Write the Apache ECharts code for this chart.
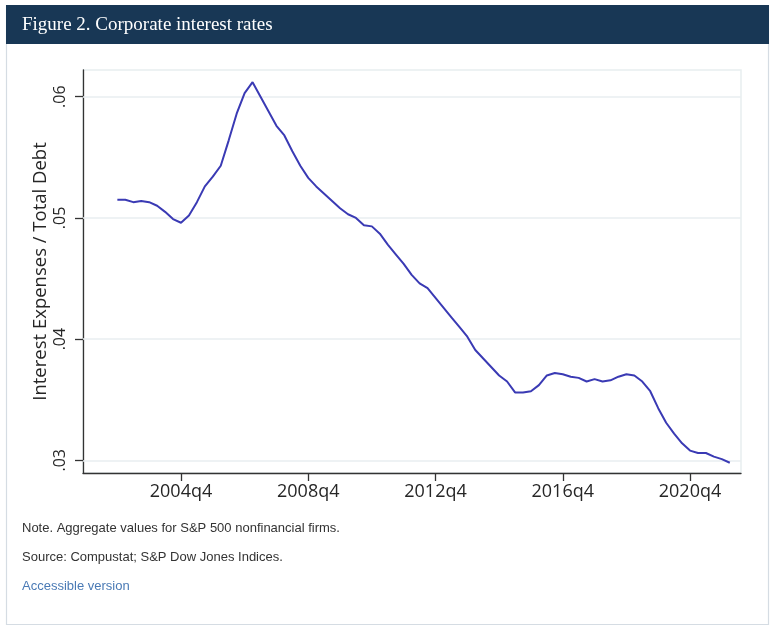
<!DOCTYPE html>
<html>
<head>
<meta charset="utf-8">
<script src="https://cdn.jsdelivr.net/npm/echarts@6/dist/echarts.min.js"></script>
<style>
  html, body { margin: 0; padding: 0; background: #fff; }
  #chart { width: 777px; height: 635px; }
</style>
</head>
<body>
<div id="chart"></div>
<script>
// ---- Data ----
const firstQuarter = '2002q4';
// Interest expenses / total debt, quarterly from 2002q4 to 2022q1
const ratioValues = [
  0.0515, 0.0515, 0.0513, 0.0514, 0.0513, 0.0510, 0.0505, 0.0499,
  0.0496, 0.0502, 0.0513, 0.0526, 0.0534, 0.0543, 0.0564, 0.0586,
  0.0603, 0.0612, 0.0600, 0.0588, 0.0576, 0.0568, 0.0555, 0.0543,
  0.0533, 0.0526, 0.0520, 0.0514, 0.0508, 0.0503, 0.0500, 0.0494,
  0.0493, 0.0487, 0.0478, 0.0470, 0.0462, 0.0453, 0.0446, 0.0442,
  0.0434, 0.0426, 0.0418, 0.0410, 0.0402, 0.0391, 0.0384, 0.0377,
  0.0370, 0.0365, 0.0356, 0.0356, 0.0357, 0.0362, 0.0370, 0.0372,
  0.0371, 0.0369, 0.0368, 0.0365, 0.0367, 0.0365, 0.0366, 0.0369,
  0.0371, 0.0370, 0.0365, 0.0357, 0.0343, 0.0331, 0.0322, 0.0314,
  0.0308, 0.0306, 0.0306, 0.0303, 0.0301, 0.0298
];
const xTickLabels = ['2004q4', '2008q4', '2012q4', '2016q4', '2020q4'];
const yTickValues = [0.03, 0.04, 0.05, 0.06];
const titleText = 'Figure 2. Corporate interest rates';
const yAxisTitle = 'Interest Expenses / Total Debt';
const noteLines = [
  'Note. Aggregate values for S&P 500 nonfinancial firms.',
  'Source: Compustat; S&P Dow Jones Indices.'
];
const linkText = 'Accessible version';

// ---- Helpers ----
function qIndex(label) {
  const y = parseInt(label.slice(0, 4), 10);
  const q = parseInt(label.slice(5), 10);
  return y * 4 + (q - 1);
}
function qLabel(idx) {
  const y = Math.floor(idx / 4);
  const q = Math.round(idx - y * 4) + 1;
  return y + 'q' + q;
}
const startIdx = qIndex(firstQuarter);
const seriesData = ratioValues.map((v, i) => [startIdx + i, v]);
const xTickValues = xTickLabels.map(qIndex);

const textColor = '#262626';
const axisColor = '#333333';
const gridColor = '#e8eef0';

const chart = echarts.init(document.getElementById('chart'), null, { renderer: 'canvas' });
chart.setOption({
  backgroundColor: '#ffffff',
  animation: false,
  title: {
    text: titleText,
    left: 17,
    top: 11,
    textStyle: {
      color: '#ffffff',
      fontFamily: 'Liberation Serif',
      fontWeight: 'normal',
      fontSize: 19
    }
  },
  graphic: [
    {
      type: 'rect',
      shape: { x: 6.5, y: 5.5, width: 762, height: 619 },
      style: { fill: 'none', stroke: '#d5dce3', lineWidth: 1.2 },
      z: 0
    },
    {
      type: 'rect',
      shape: { x: 6, y: 5, width: 763, height: 39 },
      style: { fill: '#183755' },
      z: 0
    },
    {
      type: 'text', x: 22, y: 528,
      style: { text: noteLines[0], fill: '#333333', font: '13px "Liberation Sans"', verticalAlign: 'middle' }
    },
    {
      type: 'text', x: 22, y: 557,
      style: { text: noteLines[1], fill: '#333333', font: '13px "Liberation Sans"', verticalAlign: 'middle' }
    },
    {
      type: 'text', x: 22, y: 586,
      style: { text: linkText, fill: '#4a7ab5', font: '13px "Liberation Sans"', verticalAlign: 'middle' }
    }
  ],
  grid: {
    left: 83,
    right: 36,
    top: 70,
    bottom: 162,
    show: true,
    borderColor: gridColor,
    borderWidth: 1.5,
    containLabel: false
  },
  xAxis: {
    type: 'value',
    min: qIndex('2004q4') - 12.32,
    max: qIndex('2004q4') + 70.41,
    axisLine: { show: true, onZero: false, lineStyle: { color: axisColor, width: 1.3 } },
    axisTick: {
      show: true, length: 8, inside: false,
      customValues: xTickValues,
      lineStyle: { color: axisColor, width: 1.3 }
    },
    axisLabel: {
      show: true,
      customValues: xTickValues,
      formatter: v => qLabel(v),
      margin: 10,
      color: textColor,
      fontFamily: 'Open Sans',
      fontSize: 18
    },
    splitLine: { show: false }
  },
  yAxis: {
    type: 'value',
    min: 0.028952,
    max: 0.062203,
    name: yAxisTitle,
    nameLocation: 'middle',
    nameGap: 33,
    nameMoveOverlap: false,
    nameTextStyle: { color: textColor, fontFamily: 'Open Sans', fontSize: 18.5 },
    axisLine: { show: true, onZero: false, lineStyle: { color: axisColor, width: 1.3 } },
    axisTick: {
      show: true, length: 8, inside: false,
      customValues: yTickValues,
      lineStyle: { color: axisColor, width: 1.3 }
    },
    axisLabel: {
      show: true,
      customValues: yTickValues,
      rotate: 90,
      margin: 15,
      formatter: v => v.toFixed(2).replace(/^0/, ''),
      color: textColor,
      fontFamily: 'Open Sans',
      fontSize: 16
    },
    splitLine: { show: false }
  },
  series: [
    {
      type: 'line',
      data: [],
      silent: true,
      z: 1,
      markLine: {
        silent: true,
        symbol: ['none', 'none'],
        label: { show: false },
        lineStyle: { color: gridColor, width: 1.5, type: 'solid' },
        data: yTickValues.map(v => ({ yAxis: v }))
      }
    },
    {
      type: 'line',
      data: seriesData,
      zlevel: 1,
      z: 3,
      showSymbol: false,
      symbol: 'none',
      smooth: false,
      lineStyle: { color: '#3a3ab4', width: 2 }
    }
  ]
});
</script>
</body>
</html>
